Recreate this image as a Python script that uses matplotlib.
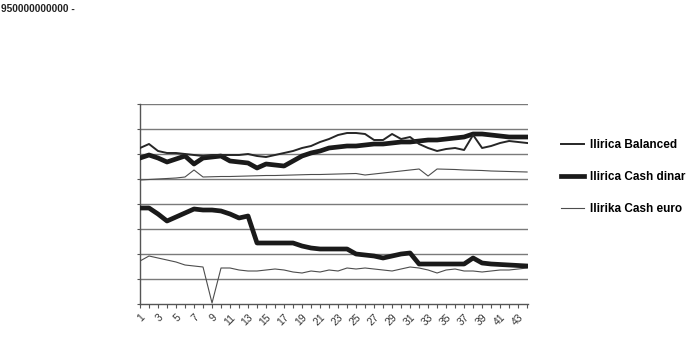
import matplotlib
matplotlib.use("Agg")
import matplotlib.pyplot as plt
from matplotlib.lines import Line2D

# ------------------------------
# DATA
# ------------------------------
days = list(range(1, 45))

# upper group of series
balanced = [624, 640, 612, 604, 604, 600, 596, 592, 596, 596,
            596, 596, 600, 592, 588, 596, 604, 612, 624, 632,
            648, 660, 676, 684, 684, 680, 656, 656, 680, 660,
            668, 640, 624, 612, 620, 624, 616, 676, 624, 632,
            644, 652, 648, 644]
cash_dinar = [584, 596, 584, 568, 580, 592, 560, 584, 588, 592,
              572, 568, 564, 544, 560, 556, 552, 572, 592, 604,
              612, 624, 628, 632, 632, 636, 640, 640, 644, 648,
              648, 652, 656, 656, 660, 664, 668, 680, 680, 676,
              672, 668, 668, 668]
cash_euro = [496, 498, 500, 502, 504, 508, 536, 508, 509, 510,
             510, 511, 512, 513, 514, 514, 515, 516, 517, 518,
             518, 519, 520, 521, 522, 516, 520, 524, 528, 532,
             536, 540, 512, 540, 539, 538, 536, 535, 534, 532,
             531, 530, 529, 528]

# lower group of series
cash_dinar_low = [384, 384, 360, 332, 348, 364, 380, 376, 376, 372,
                  360, 344, 352, 244, 244, 244, 244, 244, 232, 224,
                  220, 220, 220, 220, 200, 196, 192, 184, 192, 200,
                  204, 160, 160, 160, 160, 160, 160, 184, 164, 160,
                  158, 156, 154, 152]
cash_euro_low = [172, 192, 184, 176, 168, 156, 152, 148, 4, 144,
                 144, 136, 132, 132, 136, 140, 136, 128, 124, 132,
                 128, 136, 132, 144, 140, 144, 140, 136, 132, 140,
                 148, 144, 136, 124, 136, 140, 132, 132, 128, 132,
                 136, 136, 140, 144]

labels = ["Ilirica Balanced", "Ilirica Cash dinar", "Ilirika Cash euro"]
y_grid = list(range(0, 801, 100))

# ------------------------------
# PLOT
# ------------------------------
plt.rcParams['font.family'] = ['Liberation Sans', 'DejaVu Sans']

fig = plt.figure(figsize=(6.98, 3.46), dpi=100)
ax = fig.add_axes([140 / 698, 42 / 346, 388 / 698, 200 / 346])

styles = {
    "bal": dict(color="#262626", lw=1.4),
    "din": dict(color="#1a1a1a", lw=3.4),
    "eur": dict(color="#4d4d4d", lw=0.8),
}

for y in y_grid[1:]:
    ax.axhline(y, color="#7a7a7a", lw=1.0, zorder=1)

ax.plot(days, cash_euro, **styles["eur"], zorder=3)
ax.plot(days, balanced, **styles["bal"], zorder=4)
ax.plot(days, cash_dinar, **styles["din"], zorder=3)
ax.plot(days, cash_euro_low, **styles["eur"], zorder=3)
ax.plot(days, cash_dinar_low, **styles["din"], zorder=3)

ax.set_xlim(1, 44.1)
ax.set_ylim(0, 800)

for s in ["top", "right"]:
    ax.spines[s].set_visible(False)
ax.spines["left"].set_color("#555555")
ax.spines["bottom"].set_color("#555555")
ax.spines["left"].set_linewidth(1.0)
ax.spines["bottom"].set_linewidth(1.0)

ax.set_yticks(y_grid)
ax.set_yticklabels([])
ax.tick_params(axis="y", length=2, color="#555555")

ax.set_xticks(days)
ax.set_xticklabels([str(d) if d % 2 == 1 else "" for d in days],
                   rotation=45, ha="right", va="top",
                   rotation_mode="anchor", fontsize=7.5, color="#333333")
ax.tick_params(axis="x", length=3, color="#555555", pad=3)

handles = [Line2D([], [], **styles["bal"]),
           Line2D([], [], **styles["din"]),
           Line2D([], [], **styles["eur"])]
fig.legend(handles, labels, loc="center left",
           bbox_to_anchor=(550 / 698, 1 - 177 / 346),
           frameon=False, handlelength=2.0, handletextpad=0.5,
           labelspacing=1.7,
           prop={"weight": "bold", "size": 8.5})

fig.text(0.002, 0.988, "950000000000 -", ha="left", va="top",
         fontsize=7.3, fontweight="bold", color="#222222")

fig.savefig("out.png", dpi=100)
